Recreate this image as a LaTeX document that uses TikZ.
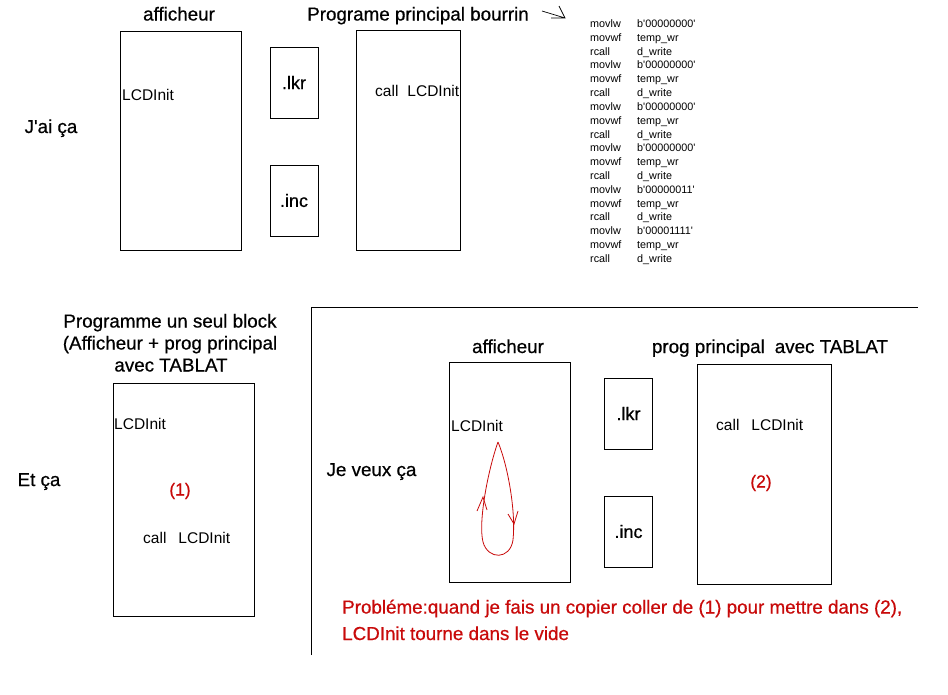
\documentclass[tikz,border=0pt]{standalone}
\usepackage{fontspec}
\newfontfamily\paintfont{Liberation Sans}
\newfontfamily\paintheavy{Liberation Sans}[FakeBold=0.6]
\usetikzlibrary{positioning}
\definecolor{inkred}{RGB}{200,10,10}

\begin{document}
\begin{tikzpicture}[
  x=1pt, y=-1pt,
  font=\paintfont,
  title/.style={font=\paintheavy\fontsize{18.8}{22}\selectfont, inner sep=0pt, anchor=base},
  block/.style={draw, line width=1pt, inner sep=0pt},
  filebox/.style={block, minimum width=48, minimum height=71, font=\paintheavy\fontsize{18}{21}\selectfont},
  small/.style={font=\paintfont\fontsize{15.5}{18}\selectfont, inner sep=0pt, anchor=base west},
  code/.style={font=\paintfont\fontsize{10.8}{13}\selectfont, inner sep=0pt, anchor=base west},
  tag/.style={font=\paintheavy\fontsize{17.5}{20}\selectfont, inner sep=0pt, text=inkred},
  note/.style={font=\paintheavy\fontsize{18.8}{22}\selectfont, inner sep=0pt, anchor=base west, text=inkred},
  sketch/.style={draw=inkred, line width=0.8pt}
]
\useasboundingbox (0,0) rectangle (948,694);

% What I have now
\node[title] (havetitle) at (51,133) {J'ai ça};

\node[title] (afftitle) at (179,20.5) {afficheur};
\node[block, minimum width=121, minimum height=219] (aff) at (180.5,140.5) {};
\node[small] (affinit) at (122,100) {LCDInit};

\node[filebox] (lkr) at (294,82.5) {.lkr};
\node[filebox, below=46pt of lkr] (inc) {.inc};

\node[title] (maintitle) at (418,20.5) {Programe principal bourrin};
\node[block, minimum width=104, minimum height=220] (main) at (408,140) {};
\node[small] (maincall) at (375,96.5) {call\hspace{9pt}LCDInit};

\draw[line width=0.7pt] (542,11) -- (565,18) (559,6) -- (565,18) -- (551,18);

% Brute-force listing
\foreach \val [count=\i from 0] in {00000000,00000000,00000000,00000000,00000011,00001111}{
  \pgfmathsetmacro\ybase{27.5+41.46*\i}
  \node[code] (movlw\i) at (590,\ybase) {movlw};
  \node[code] (bval\i) at (637,\ybase) {b'\val'};
  \node[code] (movwf\i) at (590,\ybase+13.82) {movwf};
  \node[code] (temp\i) at (637,\ybase+13.82) {temp\_wr};
  \node[code] (rcall\i) at (590,\ybase+27.64) {rcall};
  \node[code] (dwrite\i) at (637,\ybase+27.64) {d\_write};
}

% Single block
\node[title] (blocktitle1) at (170,327.5) {Programme un seul block};
\node[title] (blocktitle2) at (170,349.5) {(Afficheur + prog principal};
\node[title] (blocktitle3) at (171,371.5) {avec TABLAT};
\node[title] (andtitle) at (39,486) {Et ça};

\node[block, minimum width=141, minimum height=233] (single) at (183.5,499.5) {};
\node[small] (singleinit) at (114,429) {LCDInit};
\node[tag] (one) at (180,491) {(1)};
\node[small] (singlecall) at (143,543) {call\hspace{12pt}LCDInit};

% What I want
\draw[line width=0.9pt] (311,655) -- (311,307) -- (918,307);
\node[title] (wanttitle) at (371.5,476) {Je veux ça};

\node[title] (waff) at (508,353) {afficheur};
\node[block, minimum width=121, minimum height=220] (wantaff) at (509.5,472) {};
\node[small] (wantinit) at (451,431) {LCDInit};

\draw[sketch] (498,442) .. controls (488,470) and (478,522) .. (483,542)
  .. controls (488,560) and (510,560) .. (513,540)
  .. controls (516,512) and (508,466) .. (498,442);
\draw[sketch] (477,511) -- (483,497) -- (487,510);
\draw[sketch] (508,514) -- (514,524) -- (518,511);

\node[filebox] (wantlkr) at (628.5,413.5) {.lkr};
\node[filebox, below=46pt of wantlkr] (wantinc) {.inc};

\node[title] (wmain) at (770,353) {prog principal\hspace{10pt}avec TABLAT};
\node[block, minimum width=134, minimum height=220] (wantmain) at (764,474) {};
\node[small] (wantcall) at (716,430.5) {call\hspace{12pt}LCDInit};
\node[tag] (two) at (761,483) {(2)};

\node[note] (problem1) at (342,613.5) {Probléme:quand je fais un copier coller de (1) pour mettre dans (2),};
\node[note] (problem2) at (342,640) {LCDInit tourne dans le vide};

\end{tikzpicture}
\end{document}
